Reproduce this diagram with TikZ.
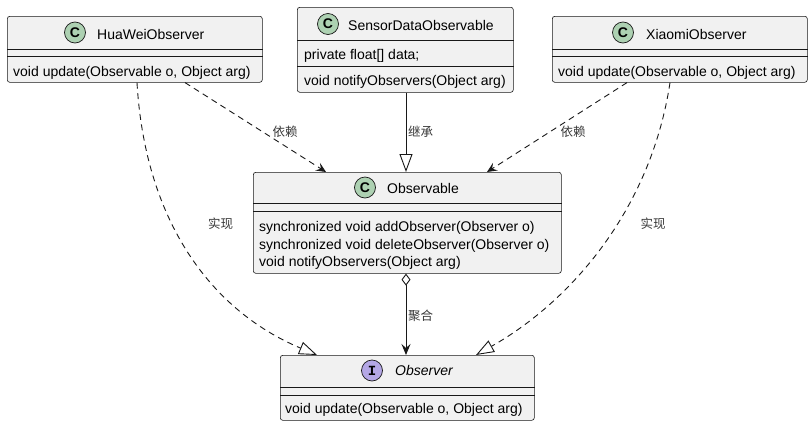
\documentclass[tikz,border=0pt]{standalone}
\usepackage{fontspec}
\setmainfont{Liberation Sans}
\setmonofont{Liberation Mono}
\newfontfamily\cjk{Noto Sans CJK SC}
\usetikzlibrary{arrows.meta}
\definecolor{boxfill}{HTML}{F1F1F1}
\definecolor{boxline}{HTML}{181818}
\definecolor{cgreen}{HTML}{ADD1B2}
\definecolor{ipurple}{HTML}{B4A7E5}
\tikzset{
  classbox/.style={draw=boxline, fill=boxfill, line width=0.6pt, rounded corners=2.5pt, inner sep=0pt, anchor=north west},
  sepline/.style={draw=boxline, line width=0.6pt},
  member/.style={anchor=base west, inner sep=0pt, font=\fontsize{14}{16}\selectfont},
  titletext/.style={anchor=base west, inner sep=0pt, font=\fontsize{14}{16}\selectfont},
  badge/.style={circle, draw=boxline, line width=0.7pt, minimum size=21pt, inner sep=0pt, font=\fontsize{14}{16}\selectfont\bfseries},
  edge/.style={draw=boxline, line width=0.9pt},
  dashedge/.style={edge, dash pattern=on 6pt off 4.5pt},
  deptip/.style={-{Stealth[length=10pt,width=9pt,inset=4pt]}},
  realtip/.style={-{Triangle[open,length=18pt,width=13pt,fill=white]}},
  aggtip/.style={{Diamond[open,length=12pt,width=9pt,fill=white]}-{Stealth[length=11pt,width=9pt,inset=4pt]}},
  lbl/.style={font=\cjk\fontsize{12.5}{14}\selectfont, text=black!78, inner sep=0pt},
}
\begin{document}
\begin{tikzpicture}[x=1pt,y=-1pt]
\useasboundingbox (0,0) rectangle (812,426);

% ---------- HuaWeiObserver ----------
\node[classbox, minimum width=255pt, minimum height=66pt] (hua) at (7,16) {};
\draw[sepline] ([yshift=-33pt]hua.north west) -- ([yshift=-33pt]hua.north east);
\draw[sepline] ([yshift=-40pt]hua.north west) -- ([yshift=-40pt]hua.north east);
\node[badge, fill=cgreen] (huaC) at (75,32.5) {C};
\node[titletext] (huaT) at (97,39.3) {HuaWeiObserver};
\node[member] (huaM) at (13,76) {void update(Observable o, Object arg)};

% ---------- SensorDataObservable ----------
\node[classbox, minimum width=216pt, minimum height=85pt] (sensor) at (297,7) {};
\draw[sepline] ([yshift=-33pt]sensor.north west) -- ([yshift=-33pt]sensor.north east);
\draw[sepline] ([yshift=-59.5pt]sensor.north west) -- ([yshift=-59.5pt]sensor.north east);
\node[badge, fill=cgreen] (sensorC) at (328,24) {C};
\node[titletext] (sensorT) at (348,30.3) {SensorDataObservable};
\node[member] (sensorA) at (304,59.5) {private float[] data;};
\node[member] (sensorM) at (304,85.5) {void notifyObservers(Object arg)};

% ---------- XiaomiObserver ----------
\node[classbox, minimum width=255pt, minimum height=66pt] (xiao) at (552,16) {};
\draw[sepline] ([yshift=-33pt]xiao.north west) -- ([yshift=-33pt]xiao.north east);
\draw[sepline] ([yshift=-40pt]xiao.north west) -- ([yshift=-40pt]xiao.north east);
\node[badge, fill=cgreen] (xiaoC) at (623,32.5) {C};
\node[titletext] (xiaoT) at (646,39.3) {XiaomiObserver};
\node[member] (xiaoM) at (558,76) {void update(Observable o, Object arg)};

% ---------- Observable ----------
\node[classbox, minimum width=308pt, minimum height=101pt] (obs) at (253,172) {};
\draw[sepline] ([yshift=-31pt]obs.north west) -- ([yshift=-31pt]obs.north east);
\draw[sepline] ([yshift=-39pt]obs.north west) -- ([yshift=-39pt]obs.north east);
\node[badge, fill=cgreen] (obsC) at (365,187.5) {C};
\node[titletext] (obsT) at (387,193) {Observable};
\node[member] (obsM1) at (259,231.5) {synchronized void addObserver(Observer o)};
\node[member] (obsM2) at (259,249) {synchronized void deleteObserver(Observer o)};
\node[member] (obsM3) at (259,266.5) {void notifyObservers(Object arg)};

% ---------- Observer (interface) ----------
\node[classbox, minimum width=254pt, minimum height=65pt] (obsr) at (280,355) {};
\draw[sepline] ([yshift=-32pt]obsr.north west) -- ([yshift=-32pt]obsr.north east);
\draw[sepline] ([yshift=-40pt]obsr.north west) -- ([yshift=-40pt]obsr.north east);
\node[badge, fill=ipurple, font=\fontsize{14}{16}\selectfont\ttfamily\bfseries] (obsrI) at (372,370.5) {I};
\node[titletext, font=\fontsize{14}{16}\selectfont\itshape] (obsrT) at (395,375) {Observer};
\node[member] (obsrM) at (285,413.5) {void update(Observable o, Object arg)};

% ---------- connectors ----------
% HuaWei depends on Observable
\draw[dashedge, deptip] ([xshift=178pt]hua.south west) -- ([xshift=73pt]obs.north west);
\node[lbl] (l1) at (285,131.5) {依赖};
% HuaWei realizes Observer
\draw[dashedge, realtip] ([xshift=130pt]hua.south west) .. controls (145,220) and (210,310) .. ([xshift=37pt]obsr.north west);
\node[lbl] (l2) at (220.5,224) {实现};
% SensorDataObservable extends Observable
\draw[edge, realtip] ([xshift=109pt]sensor.south west) -- ([xshift=153pt]obs.north west);
\node[lbl, anchor=west] (l3) at (408,132) {继承};
% Xiaomi depends on Observable
\draw[dashedge, deptip] ([xshift=75pt]xiao.south west) -- ([xshift=234pt]obs.north west);
\node[lbl] (l4) at (573,131.5) {依赖};
% Xiaomi realizes Observer
\draw[dashedge, realtip] ([xshift=118pt]xiao.south west) .. controls (650,215) and (565,305) .. ([xshift=196pt]obsr.north west);
\node[lbl] (l5) at (653,224) {实现};
% Observable aggregates Observer
\draw[edge, aggtip] ([xshift=153pt]obs.south west) -- ([xshift=126pt]obsr.north west);
\node[lbl, anchor=west] (l6) at (408,315.5) {聚合};
\end{tikzpicture}
\end{document}
